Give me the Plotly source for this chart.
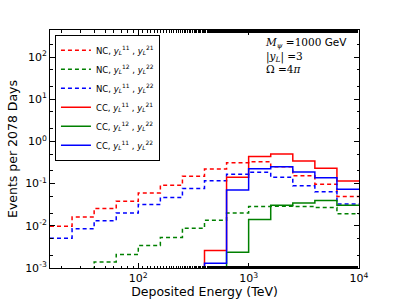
import plotly.graph_objects as go

# Bin edges (TeV), 0.2-decade bins
bin_edges = [15.85, 25.12, 39.81, 63.10, 100.0, 158.5, 251.2, 398.1, 631.0,
             1000.0, 1585.0, 2512.0, 3981.0, 6310.0, 10000.0]

# Events per bin (0 = no events in that bin)
nc_11_21 = [0.0098, 0.0162, 0.0256, 0.038, 0.060, 0.091, 0.149, 0.222, 0.313, 0.33, 0.25, 0.153, 0.097, 0.0495]
nc_12_22 = [0, 0, 0.00139, 0.0021, 0.0034, 0.0053, 0.0088, 0.0135, 0.020, 0.0286, 0.029, 0.0286, 0.0272, 0.0194]
nc_11_22 = [0.0051, 0.0085, 0.0132, 0.020, 0.032, 0.047, 0.077, 0.117, 0.166, 0.185, 0.141, 0.0885, 0.0637, 0.033]
cc_11_21 = [0, 0, 0, 0, 0, 0, 0, 0.0026, 0.141, 0.436, 0.506, 0.344, 0.231, 0.115]
cc_12_22 = [0, 0, 0, 0, 0, 0, 0, 0, 0.00236, 0.0142, 0.0307, 0.0348, 0.0397, 0.0307]
cc_11_22 = [0, 0, 0, 0, 0, 0, 0, 0.0013, 0.071, 0.225, 0.252, 0.188, 0.137, 0.073]

y_tick_vals = [1e-3, 1e-2, 1e-1, 1e0, 1e1, 1e2]
y_tick_text = ["10<sup>-3</sup>", "10<sup>-2</sup>", "10<sup>-1</sup>", "10<sup>0</sup>", "10<sup>1</sup>", "10<sup>2</sup>"]
x_tick_vals = [1e2, 1e3, 1e4]
x_tick_text = ["10<sup>2</sup>", "10<sup>3</sup>", "10<sup>4</sup>"]

def yl(a, b):
    return ("<i>y</i><sub><i>L</i></sub><sup>%s</sup> , <i>y</i><sub><i>L</i></sub><sup>%s</sup>" % (a, b))

series = [
    ("NC, " + yl("11", "21"), nc_11_21, "#ff0000", "4px,3px"),
    ("NC, " + yl("12", "22"), nc_12_22, "#008000", "4px,3px"),
    ("NC, " + yl("11", "22"), nc_11_22, "#0000ff", "4px,3px"),
    ("CC, " + yl("11", "21"), cc_11_21, "#ff0000", "solid"),
    ("CC, " + yl("12", "22"), cc_12_22, "#008000", "solid"),
    ("CC, " + yl("11", "22"), cc_11_22, "#0000ff", "solid"),
]

FLOOR = 1e-5  # empty bins drawn below the axis floor

fig = go.Figure()
for name, vals, color, dash in series:
    yv = [v if v > 0 else FLOOR for v in vals]
    fig.add_trace(go.Scatter(
        x=bin_edges, y=yv + [yv[-1]], mode="lines", name=name,
        line=dict(color=color, width=1.5, dash=dash, shape="hv"),
    ))

axis_common = dict(
    type="log", showline=True, linecolor="black", linewidth=1, mirror="allticks",
    ticks="inside", ticklen=5, tickcolor="black", showgrid=False, zeroline=False,
    automargin=False,
    tickfont=dict(family="DejaVu Sans", size=11, color="black"),
    minor=dict(ticks="inside", ticklen=2.5, tickcolor="black", showgrid=False),
)

fig.update_xaxes(range=[1.2, 4.0], tickvals=x_tick_vals, ticktext=x_tick_text,
                 title=dict(text="Deposited Energy (TeV)", standoff=1,
                            font=dict(family="DejaVu Sans", size=12.5, color="black")),
                 **axis_common)
fig.update_yaxes(range=[-3, 2.64], tickvals=y_tick_vals, ticktext=y_tick_text,
                 title=dict(text="Events per 2078 Days", standoff=4,
                            font=dict(family="DejaVu Sans", size=12.5, color="black")),
                 **axis_common)

fig.add_annotation(
    xref="paper", yref="paper", x=0.69, y=0.985, xanchor="left", yanchor="top",
    showarrow=False, align="left",
    text=("<i>M</i><sub><i>ψ</i></sub> =1000 <span style=\"font-family:DejaVu Sans\">GeV</span>"
          "<br>|<i>y</i><sub><i>L</i></sub>| =3<br>Ω =4<i>π</i>"),
    font=dict(family="DejaVu Serif", size=10.5, color="black"),
)

fig.update_layout(
    width=399, height=299,
    margin=dict(l=50, r=40, t=30, b=31, autoexpand=False),
    plot_bgcolor="white", paper_bgcolor="white",
    font=dict(family="DejaVu Sans", color="black"),
    legend=dict(x=0.016, y=0.98, xanchor="left", yanchor="top",
                bgcolor="white", bordercolor="black", borderwidth=1,
                font=dict(family="DejaVu Sans", size=8.5, color="black"),
                tracegroupgap=0, itemwidth=30),
)

fig.write_html("out.html", config={"displayModeBar": False},
               post_script="document.body.style.margin='0';")
